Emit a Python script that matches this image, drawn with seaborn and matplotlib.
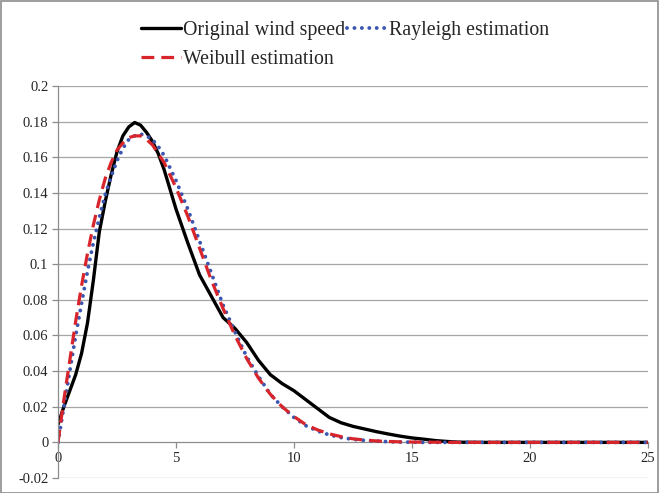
import numpy as np
import pandas as pd
import matplotlib
matplotlib.use("Agg")
import matplotlib.pyplot as plt
import seaborn as sns
from matplotlib.lines import Line2D
from matplotlib.patches import Rectangle

# wind speed grid (m/s)
speed = [0, 0.25, 0.5, 0.75, 1, 1.25, 1.5, 1.75, 2, 2.25, 2.5, 2.75, 3, 3.25, 3.5,
         3.75, 4, 4.25, 4.5, 4.75, 5, 5.5, 6, 6.5, 7, 7.5, 8, 8.5,
         9, 9.5, 10, 10.5, 11, 11.5, 12, 12.5, 13, 13.5, 14, 14.5, 15, 15.5, 16,
         16.5, 17, 18, 19, 20, 21, 22, 23, 24, 25]

original = [0.010, 0.020, 0.029, 0.038, 0.050, 0.067, 0.091, 0.118, 0.135, 0.150,
            0.163, 0.172, 0.177, 0.1795, 0.178, 0.174, 0.169, 0.162, 0.153, 0.142,
            0.131, 0.112, 0.094, 0.082, 0.070, 0.064, 0.056, 0.046, 0.038, 0.033,
            0.029, 0.024, 0.019, 0.014, 0.011, 0.009, 0.0075, 0.006, 0.0047, 0.0035,
            0.0025, 0.0018, 0.0010, 0.0005, 0.0001, 0, 0, 0, 0, 0, 0, 0, 0]

rayleigh = [0.0, 0.020, 0.040, 0.060, 0.078, 0.096, 0.112, 0.126, 0.139, 0.149,
            0.158, 0.165, 0.170, 0.172, 0.173, 0.172, 0.170, 0.166, 0.161, 0.154,
            0.147, 0.131, 0.113, 0.095, 0.077, 0.062, 0.048, 0.037, 0.027, 0.020,
            0.014, 0.0094, 0.0064, 0.0042, 0.0027, 0.0017, 0.0011, 0.0007, 0.0004,
            0.0002, 0.0001, 0, 0, 0, 0, 0, 0, 0, 0, 0, 0, 0, 0]

weibull = [0.0, 0.024, 0.046, 0.068, 0.088, 0.106, 0.122, 0.136, 0.148, 0.157,
           0.164, 0.168, 0.171, 0.172, 0.172, 0.170, 0.167, 0.162, 0.157, 0.150,
           0.143, 0.127, 0.109, 0.091, 0.075, 0.060, 0.047, 0.036, 0.027, 0.020,
           0.0145, 0.010, 0.007, 0.0048, 0.0032, 0.002, 0.0013, 0.0008, 0.0005,
           0.0003, 0.0002, 0.0001, 0.0001, 0, 0, 0, 0, 0, 0, 0, 0, 0, 0]

x_ticks = [0, 5, 10, 15, 20, 25]
y_ticks = [-0.02, 0, 0.02, 0.04, 0.06, 0.08, 0.1, 0.12, 0.14, 0.16, 0.18, 0.2]
y_labels = ["-0.02", "0", "0.02", "0.04", "0.06", "0.08", "0.1", "0.12", "0.14",
            "0.16", "0.18", "0.2"]

df = pd.DataFrame({"speed": speed, "original": original,
                   "rayleigh": rayleigh, "weibull": weibull})

sns.set_style("white")
plt.rcParams['font.family'] = ['Liberation Serif', 'DejaVu Serif']

fig = plt.figure(figsize=(6.59, 4.93), dpi=100)
ax = fig.add_axes([0.088, 0.0304, 0.895, 0.7952])

black = "#000000"
blue = "#3A56B0"
red = "#D7252B"
dot_style = (0, (0.01, 1.9))
dash_style = (0, (4.0, 2.2))

sns.lineplot(data=df, x="speed", y="original", ax=ax, color=black, lw=2.4,
             solid_joinstyle="round")
sns.lineplot(data=df, x="speed", y="rayleigh", ax=ax, color=blue, lw=2.8,
             linestyle=dot_style, dash_capstyle="round")
sns.lineplot(data=df, x="speed", y="weibull", ax=ax, color=red, lw=2.3,
             linestyle=dash_style, dash_capstyle="butt")

ax.set_xlim(0, 25)
ax.set_ylim(-0.02, 0.2)
ax.set_xticks(x_ticks)
ax.set_xticklabels([str(t) for t in x_ticks])
ax.set_yticks(y_ticks)
ax.set_yticklabels(y_labels)
ax.set_xlabel("")
ax.set_ylabel("")

for y in y_ticks:
    if y != 0:
        ax.axhline(y, color="#A6A6A6", lw=0.9, zorder=0)

for s in ["top", "right"]:
    ax.spines[s].set_visible(False)
ax.spines["left"].set_color("#8C8C8C")
ax.spines["left"].set_linewidth(0.9)
ax.spines["bottom"].set_position(("data", 0))
ax.spines["bottom"].set_color("#8C8C8C")
ax.spines["bottom"].set_linewidth(0.9)
ax.spines["bottom"].set_zorder(0.5)

ax.tick_params(axis="x", direction="out", length=4, width=0.9, color="#8C8C8C",
               labelsize=10.5, pad=3, bottom=True)
ax.tick_params(axis="y", direction="out", length=4, width=0.9, color="#8C8C8C",
               labelsize=10.5, pad=3, left=True)

handles = [Line2D([], [], color=black, lw=2.4),
           Line2D([], [], color=red, lw=2.3, linestyle=dash_style),
           Line2D([], [], color=blue, lw=2.8, linestyle=dot_style,
                  dash_capstyle="round")]
labels = ["Original wind speed", "Weibull estimation", "Rayleigh estimation"]
fig.legend(handles, labels, ncol=2, loc="upper left",
           bbox_to_anchor=(0.193, 0.985), frameon=False, fontsize=14.3,
           handlelength=2.0, handletextpad=0.1, columnspacing=0.1,
           labelspacing=0.5, borderaxespad=0.3)

fig.add_artist(Rectangle((0.001, 0.001), 0.997, 0.997, transform=fig.transFigure,
                         fill=False, edgecolor="#8C8C8C", lw=1.2))

fig.savefig("out.png", dpi=100)
